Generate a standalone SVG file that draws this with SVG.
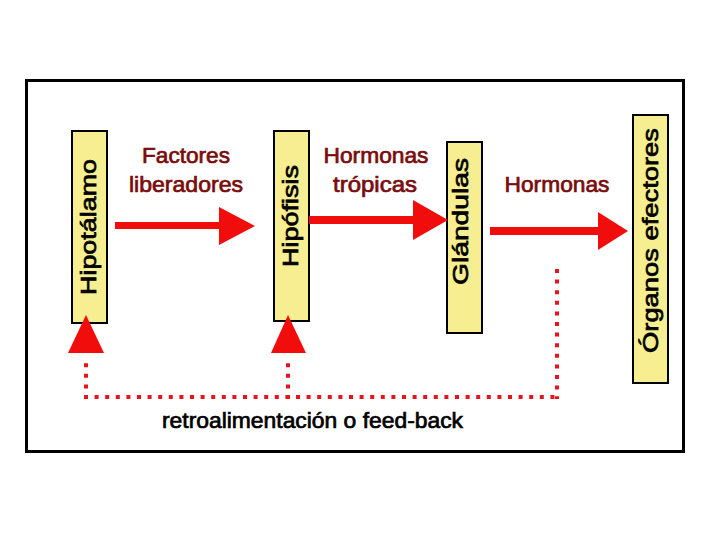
<svg xmlns="http://www.w3.org/2000/svg" width="720" height="540" viewBox="0 0 720 540">
  <style>
    .box { fill: #f6ee90; stroke: #000; stroke-width: 2; }
    .vlabel { font-family: "Liberation Sans", Arial, sans-serif; font-size: 22px; fill: #000; stroke: #000; stroke-width: 0.7; }
    .hlabel { font-family: "Liberation Sans", Arial, sans-serif; font-size: 22px; fill: #7a0c0c; stroke: #7a0c0c; stroke-width: 0.7; text-anchor: middle; }
    .arrow { fill: #f20d0d; }
    .dotted { fill: none; stroke: #e8141b; stroke-width: 4; stroke-dasharray: 4 6.6; }
    .caption { font-family: "Liberation Sans", Arial, sans-serif; font-size: 22px; fill: #000; stroke: #000; stroke-width: 0.7; }
  </style>
  <rect width="720" height="540" fill="#fff"/>
  <rect x="26.5" y="80.5" width="657" height="371" fill="none" stroke="#000" stroke-width="3"/>

  <g id="hipotalamo">
    <rect class="box" x="72" y="131" width="35" height="192"/>
    <text class="vlabel" transform="translate(96,295) rotate(-90)" textLength="136" lengthAdjust="spacingAndGlyphs">Hipotálamo</text>
  </g>
  <g id="hipofisis">
    <rect class="box" x="274" y="131" width="35" height="190"/>
    <text class="vlabel" transform="translate(298,267) rotate(-90)" textLength="102" lengthAdjust="spacingAndGlyphs">Hipófisis</text>
  </g>
  <g id="glandulas">
    <rect class="box" x="447" y="142" width="35" height="191"/>
    <text class="vlabel" transform="translate(468,285) rotate(-90)" textLength="127" lengthAdjust="spacingAndGlyphs">Glándulas</text>
  </g>
  <g id="organos">
    <rect class="box" x="633" y="115" width="35" height="268"/>
    <text class="vlabel" transform="translate(658,353) rotate(-90)" textLength="225" lengthAdjust="spacingAndGlyphs">Órganos efectores</text>
  </g>

  <g id="connectors">
    <g id="arrow-factores">
      <rect class="arrow" x="115" y="222" width="106" height="7"/>
      <polygon class="arrow" points="219,207 255,226 219,245"/>
    </g>
    <g id="arrow-tropicas">
      <rect class="arrow" x="309" y="216" width="106" height="8"/>
      <polygon class="arrow" points="413,200 448,220 413,240"/>
    </g>
    <g id="arrow-hormonas">
      <rect class="arrow" x="490" y="227" width="110" height="8"/>
      <polygon class="arrow" points="598,212 628,231 598,250"/>
    </g>
    <g id="feedback">
      <path class="dotted" d="M557,269 V399"/>
      <path class="dotted" d="M84,397 H559"/>
      <path class="dotted" d="M86,399 V357"/>
      <path class="dotted" d="M288,399 V357"/>
      <polygon class="arrow" points="68,353 104,353 86,315"/>
      <polygon class="arrow" points="271,353 306,353 288,315"/>
    </g>
  </g>

  <g id="labels">
    <text class="hlabel" x="186" y="163" textLength="88" lengthAdjust="spacingAndGlyphs">Factores</text>
    <text class="hlabel" x="186" y="192" textLength="114" lengthAdjust="spacingAndGlyphs">liberadores</text>
    <text class="hlabel" x="376" y="163" textLength="105" lengthAdjust="spacingAndGlyphs">Hormonas</text>
    <text class="hlabel" x="375" y="192" textLength="84" lengthAdjust="spacingAndGlyphs">trópicas</text>
    <text class="hlabel" x="557" y="192" textLength="105" lengthAdjust="spacingAndGlyphs">Hormonas</text>
    <text class="caption" x="162" y="428" textLength="301" lengthAdjust="spacingAndGlyphs">retroalimentación o feed-back</text>
  </g>
</svg>
